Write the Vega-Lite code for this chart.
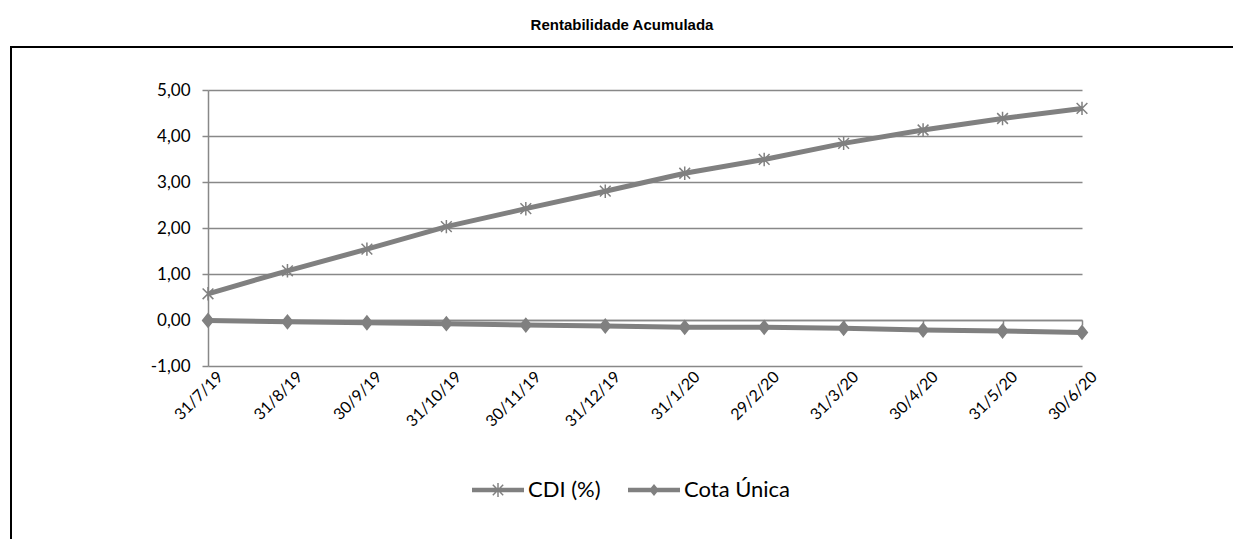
{
  "$schema": "https://vega.github.io/schema/vega-lite/v6.json",
  "autosize": "none",
  "width": 1222,
  "height": 492,
  "padding": {"left": 11, "top": 47, "right": 0, "bottom": 0},
  "background": "white",
  "title": {
    "text": "Rentabilidade Acumulada",
    "font": "Liberation Sans",
    "fontWeight": "bold",
    "fontSize": 15,
    "color": "black",
    "anchor": "middle",
    "baseline": "alphabetic",
    "offset": 2
  },
  "config": {
    "view": {"stroke": "black", "strokeWidth": 2, "strokeDash": [1222, 1714, 492]},
    "axis": {"labelFont": "Lato", "labelColor": "black", "labelFontSize": 17}
  },
  "data": {
    "values": [
      {"date": "31/7/19", "series": "CDI (%)", "value": 0.57},
      {"date": "31/8/19", "series": "CDI (%)", "value": 1.07},
      {"date": "30/9/19", "series": "CDI (%)", "value": 1.54},
      {"date": "31/10/19", "series": "CDI (%)", "value": 2.03},
      {"date": "30/11/19", "series": "CDI (%)", "value": 2.42},
      {"date": "31/12/19", "series": "CDI (%)", "value": 2.80},
      {"date": "31/1/20", "series": "CDI (%)", "value": 3.19},
      {"date": "29/2/20", "series": "CDI (%)", "value": 3.49},
      {"date": "31/3/20", "series": "CDI (%)", "value": 3.84},
      {"date": "30/4/20", "series": "CDI (%)", "value": 4.13},
      {"date": "31/5/20", "series": "CDI (%)", "value": 4.38},
      {"date": "30/6/20", "series": "CDI (%)", "value": 4.60},
      {"date": "31/7/19", "series": "Cota Única", "value": -0.01},
      {"date": "31/8/19", "series": "Cota Única", "value": -0.04},
      {"date": "30/9/19", "series": "Cota Única", "value": -0.06},
      {"date": "31/10/19", "series": "Cota Única", "value": -0.08},
      {"date": "30/11/19", "series": "Cota Única", "value": -0.11},
      {"date": "31/12/19", "series": "Cota Única", "value": -0.13},
      {"date": "31/1/20", "series": "Cota Única", "value": -0.16},
      {"date": "29/2/20", "series": "Cota Única", "value": -0.16},
      {"date": "31/3/20", "series": "Cota Única", "value": -0.18},
      {"date": "30/4/20", "series": "Cota Única", "value": -0.22},
      {"date": "31/5/20", "series": "Cota Única", "value": -0.24},
      {"date": "30/6/20", "series": "Cota Única", "value": -0.27}
    ]
  },
  "encoding": {
    "x": {
      "field": "date",
      "type": "ordinal",
      "scale": {
        "type": "point",
        "domain": ["31/7/19", "31/8/19", "30/9/19", "31/10/19", "30/11/19", "31/12/19", "31/1/20", "29/2/20", "31/3/20", "30/4/20", "31/5/20", "30/6/20"],
        "range": [197, 1071],
        "padding": 0
      },
      "axis": {
        "title": null,
        "orient": "bottom",
        "offset": -219,
        "domainColor": "#888888",
        "domainWidth": 1.5,
        "tickColor": "#888888",
        "tickWidth": 1.5,
        "tickSize": 5,
        "labelAngle": -45,
        "labelAlign": "right",
        "labelBaseline": "middle",
        "labelPadding": 49,
        "labelOffset": 12,
        "labelFontSize": 16,
        "grid": false
      }
    },
    "y": {
      "field": "value",
      "type": "quantitative",
      "scale": {"domain": [-1, 5], "range": [319, 43], "nice": false, "zero": false},
      "axis": {
        "title": null,
        "offset": -197,
        "values": [-1, 0, 1, 2, 3, 4, 5],
        "labelExpr": "replace(replace(format(datum.value, '.2f'), '.', ','), '\u2212', '-')",
        "domainColor": "#888888",
        "domainWidth": 1.5,
        "tickColor": "#888888",
        "tickWidth": 1.5,
        "tickSize": 6,
        "labelPadding": 12,
        "grid": true,
        "gridColor": "#888888",
        "gridWidth": 1.5
      }
    }
  },
  "resolve": {"scale": {"shape": "independent"}},
  "layer": [
    {
      "mark": {"type": "line", "color": "#808080", "strokeWidth": 5},
      "encoding": {"detail": {"field": "series"}}
    },
    {
      "mark": {"type": "point", "filled": true, "fill": "#808080", "stroke": "#808080", "strokeWidth": 1.5, "size": 180, "opacity": 1},
      "encoding": {
        "shape": {
          "field": "series",
          "type": "nominal",
          "scale": {
            "domain": ["CDI (%)", "Cota Única"],
            "range": ["M-0.8,-0.8L0.8,0.8M0.8,-0.8L-0.8,0.8M0,-1L0,1", "M0,-1L0.8,0L0,1L-0.8,0Z"]
          },
          "legend": null
        }
      }
    },
    {
      "mark": {"type": "point", "filled": true, "color": "#808080", "stroke": "#808080", "strokeWidth": 1.2, "opacity": 0},
      "encoding": {
        "shape": {
          "field": "series",
          "type": "nominal",
          "scale": {
            "domain": ["CDI (%)", "Cota Única"],
            "range": [
              "M-1,-0.09H1V0.09H-1ZM-0.028,-0.27H0.028V0.27H-0.028ZM-0.22,-0.18L-0.18,-0.22L0.22,0.18L0.18,0.22ZM0.18,-0.22L0.22,-0.18L-0.18,0.22L-0.22,0.18Z",
              "M-1,-0.09H1V0.09H-1ZM0,-0.23L0.19,0L0,0.23L-0.19,0Z"
            ]
          },
          "legend": {
            "title": null,
            "orient": "none",
            "legendX": 460,
            "legendY": 416,
            "direction": "horizontal",
            "symbolSize": 2704,
            "symbolOpacity": 1,
            "symbolFillColor": "#808080",
            "symbolStrokeColor": "#808080",
            "symbolStrokeWidth": 1.2,
            "labelFont": "Lato",
            "labelFontSize": 22,
            "labelColor": "black",
            "labelOffset": 3,
            "columnPadding": 24
          }
        }
      }
    }
  ]
}
